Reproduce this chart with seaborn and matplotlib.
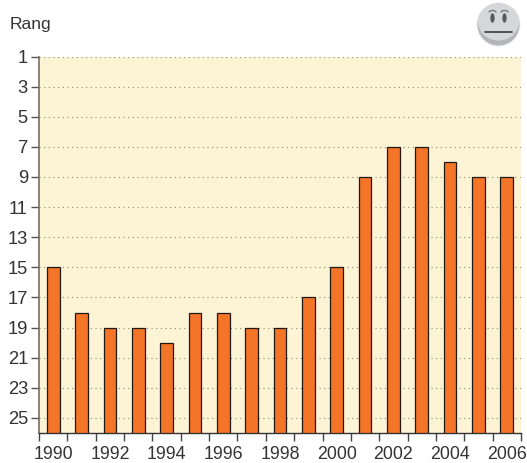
import numpy as np
import pandas as pd
import matplotlib
matplotlib.use("Agg")
import matplotlib.pyplot as plt
from matplotlib.patches import Circle, Ellipse, Arc
from matplotlib.ticker import FixedLocator, NullFormatter
import seaborn as sns

years = [str(y) for y in range(1990, 2007)]
ranks = [15, 18, 19, 19, 20, 18, 18, 19, 19, 17, 15, 9, 7, 7, 8, 9, 9]
rank_ticks = [1, 3, 5, 7, 9, 11, 13, 15, 17, 19, 21, 23, 25]
axis_floor = 26
y_label = "Rang"

sns.set_theme(style="white")
plt.rcParams["font.family"] = ["Liberation Sans", "DejaVu Sans"]

W, H = 527, 463
fig = plt.figure(figsize=(W / 100, H / 100), dpi=100, facecolor="white")
L, R, T, B = 39, 521, 56.5, 433
ax = fig.add_axes([L / W, 1 - B / H, (R - L) / W, (B - T) / H], facecolor="#FDF3D5")

df = pd.DataFrame({"year": years, "rank": ranks})
df["height"] = df["rank"] - axis_floor
sns.barplot(data=df, x="year", y="height", bottom=axis_floor, ax=ax, color="#F47428",
            saturation=1, width=0.45, edgecolor="#1f1a14", linewidth=0.9, zorder=3)

ax.set_xlim(-0.5, len(years) - 0.5)
ax.set_ylim(axis_floor, 1)
ax.set_xlabel("")
ax.set_ylabel("")

ax.set_yticks(rank_ticks)
ax.set_yticklabels([str(r) for r in rank_ticks])
ax.set_xticks(range(0, len(years), 2))
ax.set_xticklabels(years[::2])
ax.xaxis.set_minor_locator(FixedLocator(np.arange(-0.5, len(years), 1)))
ax.xaxis.set_minor_formatter(NullFormatter())

ax.tick_params(axis="x", which="major", length=0, pad=9.5, labelsize=12.8, labelcolor="#333333")
ax.tick_params(axis="x", which="minor", bottom=True, length=6, width=1, color="#444444")
ax.tick_params(axis="y", which="major", left=True, length=6, width=1, color="#555555",
               pad=2, labelsize=13.2, labelcolor="#333333")

ax.grid(axis="y", linestyle=(0, (1, 3.2)), color="#94896c", linewidth=0.8, zorder=1)
ax.grid(axis="x", visible=False)
ax.set_axisbelow(True)

for s in ["top", "right"]:
    ax.spines[s].set_visible(False)
ax.spines["left"].set_color("#77705f")
ax.spines["left"].set_linewidth(1.2)
ax.spines["bottom"].set_color("#333333")
ax.spines["bottom"].set_linewidth(1.0)

fig.text(10 / W, 1 - 24.5 / H, y_label, fontsize=12.6, color="#333333", ha="left", va="center")

# Face icon
ov = fig.add_axes([0, 0, 1, 1], facecolor="none")
ov.set_xlim(0, W)
ov.set_ylim(H, 0)
ov.axis("off")
cx, cy = 498.5, 24.5
ov.add_patch(Circle((cx, cy), 22, color="#ebebed", lw=0))
ov.add_patch(Circle((cx, cy), 21, color="#b4b5b8", lw=0))
ov.add_patch(Ellipse((cx, cy - 2.5), 41, 37, color="#d6d7d9", lw=0))
ov.add_patch(Ellipse((cx - 6, cy - 6.5), 4.2, 9.5, color="#57585c", lw=0))
ov.add_patch(Ellipse((cx + 6, cy - 6.5), 4.2, 9.5, color="#57585c", lw=0))
ov.plot([cx - 13.5, cx + 13.5], [cy + 7.5, cy + 7.5], color="#48494d", lw=1.3, solid_capstyle="round")
ov.add_patch(Arc((cx - 6, cy - 12), 7, 4, theta1=180, theta2=360, color="#77787c", lw=1))
ov.add_patch(Arc((cx + 6, cy - 12), 7, 4, theta1=180, theta2=360, color="#77787c", lw=1))

fig.savefig("out.png", dpi=100)
